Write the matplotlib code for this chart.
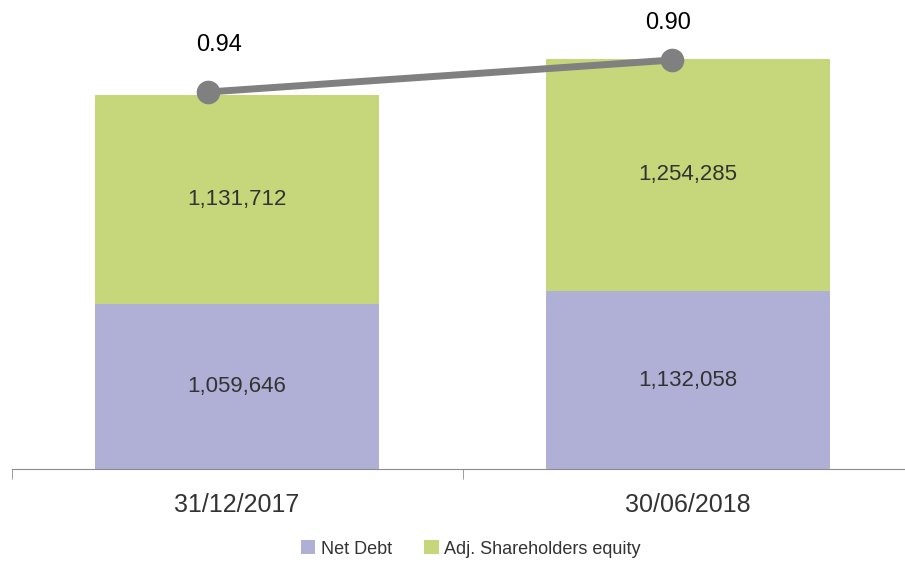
import numpy as np
import matplotlib.pyplot as plt

# Data
periods = ["31/12/2017", "30/06/2018"]
net_debt = [1059646, 1132058]
equity = [1131712, 1254285]
ratio = [0.94, 0.90]

purple = "#b0b0d6"
green = "#c5d77a"
grey_line = "#808080"
txt = "#333333"

plt.rcParams['font.family'] = ['Liberation Sans', 'DejaVu Sans']

fig = plt.figure(figsize=(9.05, 5.63), dpi=100)
ax = fig.add_axes([11.5 / 905, 94 / 563, 902 / 905, 469 / 563])

x = np.arange(len(periods))
ybot = 170000
ax.bar(x, net_debt, width=0.63, color=purple, label="Net Debt")
ax.bar(x, equity, width=0.63, bottom=net_debt, color=green, label="Adj. Shareholders equity")
ax.set_xlim(-0.5, 1.5)
ax.set_ylim(ybot, 2705000)

# value labels in the middle of each visible segment
for i in range(len(periods)):
    ax.text(x[i], (ybot + net_debt[i]) / 2, f"{net_debt[i]:,}", ha="center", va="center",
            fontsize=16, color=txt)
    ax.text(x[i], net_debt[i] + equity[i] / 2, f"{equity[i]:,}", ha="center", va="center",
            fontsize=16, color=txt)

for s in ["top", "right", "left"]:
    ax.spines[s].set_visible(False)
ax.spines["bottom"].set_color("#8c8c8c")
ax.set_yticks([])
ax.set_xticks(x)
ax.set_xticklabels(periods, fontsize=18, color=txt)
ax.tick_params(axis="x", which="major", length=0, pad=17)
ax.set_xticks([-0.5, 0.5, 1.5], minor=True)
ax.tick_params(axis="x", which="minor", length=7, color="#8c8c8c")

# ratio line on its own axis
ax2 = ax.twinx()
ax2.set_ylim(1.411, 0.825)
ax2.axis("off")
line_x = x + np.array([-0.065, -0.035])
ax2.plot(line_x, ratio, color=grey_line, lw=5, marker="o", ms=16, zorder=5)
offsets = [(8, 34), (-3, 27)]
for i in range(len(ratio)):
    ax2.annotate(f"{ratio[i]:.2f}", (line_x[i], ratio[i]), xytext=offsets[i],
                 textcoords="offset points", ha="center", va="center", fontsize=17, color="black")

handles, labels = ax.get_legend_handles_labels()
fig.legend(handles, labels, loc="center", bbox_to_anchor=(0.52, 0.025), ncol=2, frameon=False,
           fontsize=13, handlelength=0.8, handleheight=0.8, handletextpad=0.3, columnspacing=1.8,
           labelcolor=txt)

fig.savefig("out.png", dpi=100)
